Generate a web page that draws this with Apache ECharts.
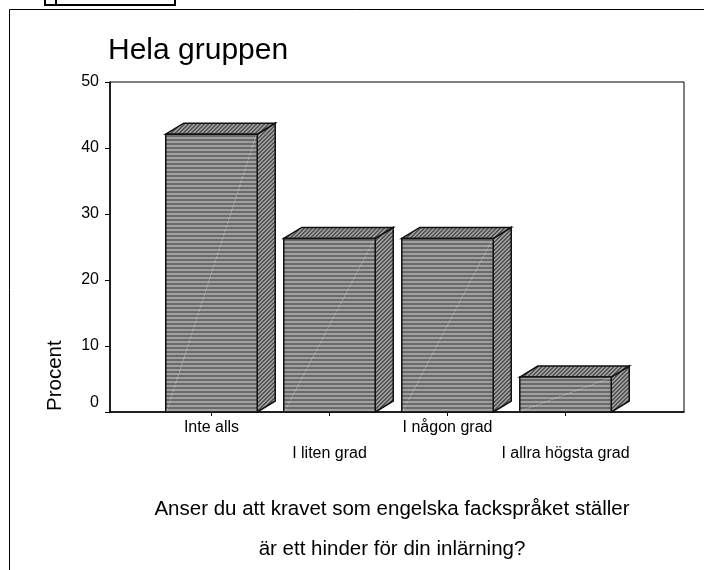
<!DOCTYPE html>
<html>
<head>
<meta charset="utf-8">
<style>
  html, body { margin: 0; padding: 0; background: #fff; }
  #chart { width: 704px; height: 570px; }
</style>
<script src="https://cdn.jsdelivr.net/npm/echarts@6/dist/echarts.min.js"></script>
</head>
<body>
<div id="chart"></div>
<script>
const categories = ["Inte alls", "I liten grad", "I någon grad", "I allra högsta grad"];
const percent = [42.1, 26.3, 26.3, 5.3];

const font = "Liberation Sans";
const depthX = 18;
const depthY = 11;

// horizontal stripes on the front of the bars
function stripePattern() {
  const c = document.createElement("canvas");
  c.width = 4;
  c.height = 4;
  const ctx = c.getContext("2d");
  ctx.fillStyle = "#6a6a6a";
  ctx.fillRect(0, 0, 4, 4);
  ctx.fillStyle = "#a0a0a0";
  ctx.fillRect(0, 1, 4, 2);
  return { image: c, repeat: "repeat" };
}

// fine diagonal hatch on top and side faces
function hatchPattern() {
  const c = document.createElement("canvas");
  c.width = 4;
  c.height = 4;
  const ctx = c.getContext("2d");
  ctx.fillStyle = "#9c9c9c";
  ctx.fillRect(0, 0, 4, 4);
  ctx.fillStyle = "#555";
  for (let i = 0; i < 4; i++) {
    ctx.fillRect(i, 3 - i, 1, 1);
    ctx.fillRect((i + 1) % 4, 3 - i, 1, 1);
  }
  return { image: c, repeat: "repeat" };
}

const stripes = stripePattern();
const hatch = hatchPattern();

function renderBar(params, api) {
  const top = api.coord([api.value(0), api.value(1)]);
  const base = api.coord([api.value(0), 0]);
  const w = api.size([1, 0])[0] * 0.775;
  const x0 = top[0] - w / 2;
  const x1 = top[0] + w / 2;
  const y0 = top[1];
  const y1 = base[1];
  const edge = { stroke: "#111", lineWidth: 1.5 };
  return {
    type: "group",
    children: [
      {
        type: "polygon",
        shape: { points: [[x1, y1], [x1 + depthX, y1 - depthY], [x1 + depthX, y0 - depthY], [x1, y0]] },
        style: { fill: hatch, ...edge },
      },
      {
        type: "polygon",
        shape: { points: [[x0, y0], [x0 + depthX, y0 - depthY], [x1 + depthX, y0 - depthY], [x1, y0]] },
        style: { fill: hatch, ...edge },
      },
      {
        type: "rect",
        shape: { x: x0, y: y0, width: w, height: y1 - y0 },
        style: { fill: stripes, ...edge },
      },
      {
        type: "line",
        shape: { x1: x0 + 1, y1: y1 - 1, x2: x1 - 1, y2: y0 + 1 },
        style: { stroke: "rgba(255,255,255,0.3)", lineWidth: 1, lineDash: [3, 1] },
      },
    ],
  };
}

const myChart = echarts.init(document.getElementById("chart"), null, { renderer: "canvas" });

const option = {
  animation: false,
  backgroundColor: "#fff",
  textStyle: { fontFamily: font },
  title: [
    { text: "Hela gruppen", left: 103, top: 31, textStyle: { fontFamily: font, fontSize: 30, fontWeight: "normal", color: "#000" } },
    { text: "Anser du att kravet som engelska fackspråket ställer", left: 387, top: 494, textAlign: "center", textStyle: { fontFamily: font, fontSize: 20.5, fontWeight: "normal", color: "#000" } },
    { text: "är ett hinder för din inlärning?", left: 387, top: 534, textAlign: "center", textStyle: { fontFamily: font, fontSize: 20.5, fontWeight: "normal", color: "#000" } },
  ],
  grid: { left: 110, top: 82, width: 574, height: 330, show: true, borderColor: "#000", borderWidth: 1, backgroundColor: "transparent" },
  xAxis: {
    type: "value",
    min: -0.86,
    max: 4.004,
    splitLine: { show: false },
    axisLine: { show: true, onZero: false, lineStyle: { color: "#000", width: 1.5 } },
    axisTick: { show: true, length: 4, customValues: [0, 1, 2, 3], lineStyle: { color: "#000" } },
    axisLabel: {
      customValues: [0, 1, 2, 3],
      margin: 3,
      color: "#000",
      fontFamily: font,
      fontSize: 16,
      lineHeight: 26,
      verticalAlign: "top",
      formatter: (v) => (v % 2 === 1 ? "\n" + categories[v] : categories[v]),
    },
  },
  yAxis: {
    type: "value",
    min: 0,
    max: 50,
    interval: 10,
    splitLine: { show: false },
    axisLine: { show: true, onZero: false, lineStyle: { color: "#000", width: 1.5 } },
    axisTick: { show: true, length: 5, lineStyle: { color: "#000" } },
    axisLabel: {
      margin: 11,
      color: "#000",
      fontFamily: font,
      fontSize: 16,
      formatter: (v) => (v === 0 ? "{zero|0}" : String(v)),
      rich: { zero: { fontFamily: font, fontSize: 16, color: "#000", padding: [0, 0, 18, 0] } },
    },
  },
  series: [
    {
      type: "custom",
      renderItem: renderBar,
      data: percent.map((p, i) => [i, p]),
      encode: { x: 0, y: 1 },
      clip: false,
    },
  ],
  graphic: [
    { type: "text", x: 66, y: 411, rotation: Math.PI / 2, style: { text: "Procent", fontFamily: font, fontSize: 20.5, fill: "#000", align: "left", verticalAlign: "bottom" } },
    { type: "line", shape: { x1: 9.5, y1: 9.5, x2: 704, y2: 9.5 }, style: { stroke: "#000", lineWidth: 1 } },
    { type: "line", shape: { x1: 9.5, y1: 9.5, x2: 9.5, y2: 570 }, style: { stroke: "#000", lineWidth: 1 } },
    { type: "polyline", shape: { points: [[45, 0], [45, 5], [175, 5], [175, 0]] }, style: { stroke: "#000", lineWidth: 2, fill: "none" } },
    { type: "line", shape: { x1: 56, y1: 0, x2: 56, y2: 5 }, style: { stroke: "#000", lineWidth: 2 } },
  ],
};

myChart.setOption(option);
</script>
</body>
</html>
